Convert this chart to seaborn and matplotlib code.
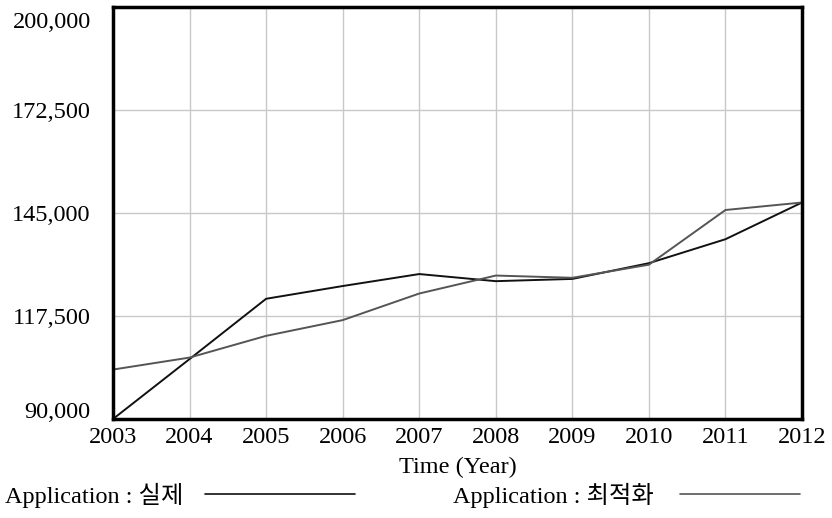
import matplotlib
matplotlib.use("Agg")
import matplotlib.pyplot as plt
import matplotlib.transforms as mtransforms
from matplotlib.lines import Line2D
import seaborn as sns
import pandas as pd

years = [2003, 2004, 2005, 2006, 2007, 2008, 2009, 2010, 2011, 2012]
actual = [90000, 106000, 122100, 125500, 128700, 126800, 127400, 131600, 138000, 147800]
optimized = [103200, 106400, 112200, 116400, 123500, 128300, 127700, 131200, 145800, 147800]
series_names = ["Application : 실제", "Application : 최적화"]
series_colors = ["#111111", "#555555"]
yticks = [90000, 117500, 145000, 172500, 200000]

sns.set_theme(style="whitegrid")
plt.rcParams['font.family'] = ['Liberation Serif', 'Noto Sans CJK KR']

FS = 17.5

df = pd.DataFrame({
    "Year": years * 2,
    "Value": actual + optimized,
    "Series": [series_names[0]] * len(years) + [series_names[1]] * len(years),
})

fig = plt.figure(figsize=(8.32, 5.18), dpi=100)
ax = fig.add_axes([113/832, 1 - 419/518, (802 - 113)/832, (419 - 7)/518])

sns.lineplot(data=df, x="Year", y="Value", hue="Series", palette=series_colors,
             ax=ax, legend=False, linewidth=1.4)

ax.set_xlim(2003, 2012)
ax.set_ylim(90000, 200000)
ax.set_xticks(years)
ax.set_xticklabels([str(y) for y in years], fontsize=FS)
ax.set_yticks(yticks)
ax.set_yticklabels([f"{v:,}" for v in yticks], fontsize=FS)
ax.tick_params(axis='y', length=0, pad=16, colors='black')
ax.tick_params(axis='x', length=0, pad=6, colors='black')
ticks = ax.yaxis.get_major_ticks()
for t, dy in ((ticks[0], 9), (ticks[-1], -13)):
    lab = t.label1
    lab.set_transform(lab.get_transform() + mtransforms.ScaledTranslation(0, dy / 100, fig.dpi_scale_trans))
ax.set_xlabel("Time (Year)", fontsize=FS, color='black', labelpad=6)
ax.set_ylabel("")
ax.grid(True, color='#c8c8c8', linewidth=1)
ax.set_facecolor('white')
for s in ax.spines.values():
    s.set_visible(True)
    s.set_color('black')
    s.set_linewidth(2.5)

# legend-like annotation at the bottom
ly = 1 - 495/518
fig.text(5/832, ly, series_names[0], fontsize=FS, va='center', ha='left', color='black')
fig.add_artist(Line2D([205/832, 355/832], [1 - 494/518] * 2, color=series_colors[0], linewidth=1.2))
fig.text(453/832, ly, series_names[1], fontsize=FS, va='center', ha='left', color='black')
fig.add_artist(Line2D([680/832, 800/832], [1 - 494/518] * 2, color=series_colors[1], linewidth=1.2))

fig.savefig("out.png", dpi=100, facecolor='white')
